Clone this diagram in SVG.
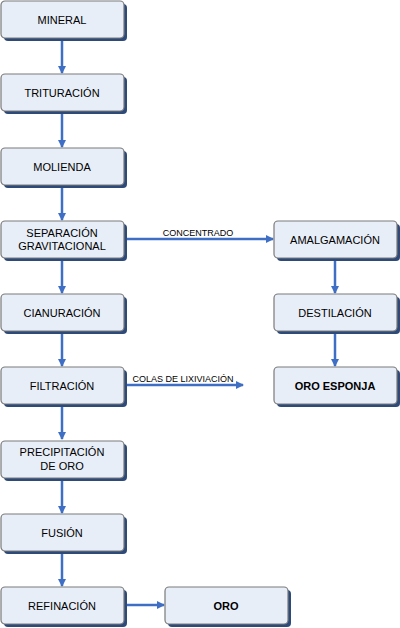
<svg xmlns="http://www.w3.org/2000/svg" width="400" height="628" viewBox="0 0 400 628">
<defs>
<marker id="ah" markerWidth="8" markerHeight="8" refX="7" refY="4" orient="auto" markerUnits="userSpaceOnUse">
<path d="M0,0 L8,4 L0,8 Z" fill="#3f6fc4"/>
</marker>
<style>
.sh{fill:#2d4a78}
.bx{fill:#e8eef8;stroke:#7a7a7a;stroke-width:1.2}
.t{font-family:"Liberation Sans",Arial,sans-serif;font-size:11px;fill:#000;text-anchor:middle}
.b{font-weight:bold}
.l{font-family:"Liberation Sans",Arial,sans-serif;font-size:9px;fill:#000;text-anchor:middle}
.c{stroke:#3f6fc4;stroke-width:2.5;fill:none;marker-end:url(#ah)}
</style>
</defs>
<g id="connectors">
<line class="c" x1="62" y1="38" x2="62" y2="73"/>
<line class="c" x1="62" y1="111" x2="62" y2="147"/>
<line class="c" x1="62" y1="185" x2="62" y2="220"/>
<line class="c" x1="62" y1="258" x2="62" y2="293"/>
<line class="c" x1="62" y1="331" x2="62" y2="366"/>
<line class="c" x1="62" y1="404" x2="62" y2="439"/>
<line class="c" x1="62" y1="478" x2="62" y2="513"/>
<line class="c" x1="62" y1="551" x2="62" y2="586"/>
<line class="c" x1="125" y1="239" x2="273" y2="239"/>
<line class="c" x1="125" y1="385" x2="243" y2="385"/>
<line class="c" x1="125" y1="605" x2="164" y2="605"/>
<line class="c" x1="335" y1="258" x2="335" y2="293"/>
<line class="c" x1="335" y1="331" x2="335" y2="366"/>
<text class="l" x="198" y="236">CONCENTRADO</text>
<text class="l" x="183" y="382">COLAS DE LIXIVIACIÓN</text>
</g>
<g id="mineral"><rect class="sh" x="4" y="4" width="123" height="37" rx="4"/><rect class="bx" x="1" y="1" width="123" height="37" rx="4"/><text class="t" x="62" y="23.5">MINERAL</text></g>
<g id="trituracion"><rect class="sh" x="4" y="77" width="123" height="37" rx="4"/><rect class="bx" x="1" y="74" width="123" height="37" rx="4"/><text class="t" x="62" y="96.5">TRITURACIÓN</text></g>
<g id="molienda"><rect class="sh" x="4" y="151" width="123" height="37" rx="4"/><rect class="bx" x="1" y="148" width="123" height="37" rx="4"/><text class="t" x="62" y="170.5">MOLIENDA</text></g>
<g id="separacion"><rect class="sh" x="4" y="224" width="123" height="37" rx="4"/><rect class="bx" x="1" y="221" width="123" height="37" rx="4"/><text class="t" x="62" y="237">SEPARACIÓN</text><text class="t" x="62" y="250">GRAVITACIONAL</text></g>
<g id="cianuracion"><rect class="sh" x="4" y="297" width="123" height="37" rx="4"/><rect class="bx" x="1" y="294" width="123" height="37" rx="4"/><text class="t" x="62" y="316.5">CIANURACIÓN</text></g>
<g id="filtracion"><rect class="sh" x="4" y="370" width="123" height="37" rx="4"/><rect class="bx" x="1" y="367" width="123" height="37" rx="4"/><text class="t" x="62" y="389.5">FILTRACIÓN</text></g>
<g id="precipitacion"><rect class="sh" x="4" y="444" width="123" height="37" rx="4"/><rect class="bx" x="1" y="441" width="123" height="37" rx="4"/><text class="t" x="62" y="456">PRECIPITACIÓN</text><text class="t" x="62" y="470">DE ORO</text></g>
<g id="fusion"><rect class="sh" x="4" y="517" width="123" height="37" rx="4"/><rect class="bx" x="1" y="514" width="123" height="37" rx="4"/><text class="t" x="62" y="536.5">FUSIÓN</text></g>
<g id="refinacion"><rect class="sh" x="4" y="590" width="123" height="37" rx="4"/><rect class="bx" x="1" y="587" width="123" height="37" rx="4"/><text class="t" x="62" y="609.5">REFINACIÓN</text></g>
<g id="oro"><rect class="sh" x="168" y="590" width="123" height="37" rx="4"/><rect class="bx" x="165" y="587" width="123" height="37" rx="4"/><text class="t b" x="226" y="609.5">ORO</text></g>
<g id="amalgamacion"><rect class="sh" x="277" y="224" width="123" height="37" rx="4"/><rect class="bx" x="274" y="221" width="123" height="37" rx="4"/><text class="t" x="335" y="243.5">AMALGAMACIÓN</text></g>
<g id="destilacion"><rect class="sh" x="277" y="297" width="123" height="37" rx="4"/><rect class="bx" x="274" y="294" width="123" height="37" rx="4"/><text class="t" x="335" y="316.5">DESTILACIÓN</text></g>
<g id="oro-esponja"><rect class="sh" x="277" y="370" width="123" height="37" rx="4"/><rect class="bx" x="274" y="367" width="123" height="37" rx="4"/><text class="t b" x="335" y="389.5">ORO ESPONJA</text></g>
</svg>
